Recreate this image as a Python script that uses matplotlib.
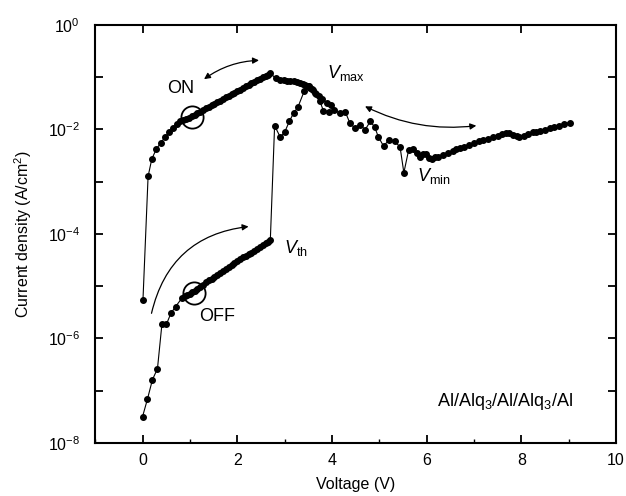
import numpy as np
import matplotlib
matplotlib.use("Agg")
import matplotlib.pyplot as plt
from matplotlib.ticker import FixedLocator, NullLocator, MultipleLocator

plt.rcParams['font.family'] = ['Liberation Sans', 'DejaVu Sans']
plt.rcParams['mathtext.fontset'] = 'custom'
plt.rcParams['mathtext.rm'] = 'Liberation Sans'
plt.rcParams['mathtext.it'] = 'Liberation Sans:italic'

# first sweep: OFF state, switching at Vth, NDR region, up to 9 V  (log10 of J)
v_off = [0.0, 0.105, 0.21, 0.316, 0.41, 0.505, 0.60, 0.70, 0.84,
         0.90, 0.95, 1.00, 1.05, 1.10, 1.16, 1.22, 1.28, 1.34, 1.40,
         1.46, 1.52, 1.58, 1.64, 1.70, 1.76, 1.82, 1.88, 1.94, 2.00,
         2.06, 2.12, 2.18, 2.24, 2.30, 2.36, 2.42, 2.48, 2.54, 2.60,
         2.65, 2.70,
         2.79, 2.91, 3.00, 3.10, 3.19, 3.28, 3.42, 3.51, 3.58, 3.66,
         3.74, 3.82, 3.94, 4.05, 4.17, 4.28, 4.38, 4.49, 4.60, 4.70,
         4.81, 4.90, 4.98, 5.09, 5.21, 5.33, 5.44, 5.52, 5.62, 5.72,
         5.80, 5.86, 5.92, 5.98, 6.05, 6.11, 6.18, 6.25, 6.35, 6.45,
         6.55, 6.62, 6.70, 6.80, 6.90, 7.00, 7.10, 7.19, 7.30, 7.40,
         7.50, 7.60, 7.68, 7.75, 7.82, 7.90, 7.96, 8.05, 8.15, 8.25,
         8.32, 8.39, 8.50, 8.60, 8.70, 8.80, 8.90, 9.02]
logj_off = [-7.50, -7.16, -6.79, -6.58, -5.73, -5.73, -5.52, -5.39, -5.22,
            -5.19, -5.17, -5.15, -5.12, -5.09, -5.05, -5.01, -4.97, -4.93, -4.89,
            -4.86, -4.82, -4.78, -4.75, -4.71, -4.67, -4.63, -4.60, -4.56, -4.52,
            -4.48, -4.45, -4.42, -4.39, -4.36, -4.33, -4.29, -4.26, -4.22, -4.18,
            -4.15, -4.11,
            -1.93, -2.15, -2.06, -1.85, -1.69, -1.58, -1.26, -1.18, -1.22, -1.32,
            -1.45, -1.64, -1.66, -1.63, -1.69, -1.66, -1.88, -1.98, -1.91, -2.01,
            -1.85, -1.95, -2.14, -2.32, -2.20, -2.23, -2.34, -2.83, -2.40, -2.38,
            -2.46, -2.52, -2.47, -2.47, -2.55, -2.57, -2.53, -2.52, -2.49, -2.45,
            -2.42, -2.38, -2.36, -2.33, -2.30, -2.27, -2.23, -2.20, -2.18, -2.15,
            -2.12, -2.09, -2.07, -2.07, -2.10, -2.13, -2.15, -2.12, -2.09, -2.06,
            -2.05, -2.04, -2.01, -1.98, -1.95, -1.93, -1.90, -1.87]

# second sweep: ON state
v_on = [0.01, 0.118, 0.196, 0.29, 0.385, 0.476, 0.56, 0.645, 0.737, 0.80,
        0.86, 0.92, 0.98, 1.04, 1.10, 1.16, 1.22, 1.28, 1.34, 1.40,
        1.46, 1.52, 1.58, 1.64, 1.70, 1.76, 1.82, 1.88, 1.94, 2.00,
        2.06, 2.12, 2.18, 2.24, 2.30, 2.36, 2.42, 2.48, 2.54, 2.60,
        2.65, 2.70, 2.81, 2.91, 2.98, 3.05, 3.12, 3.19, 3.26, 3.33,
        3.40, 3.44, 3.50, 3.54, 3.60, 3.65, 3.72, 3.79, 3.89, 3.99]
logj_on = [-5.26, -2.90, -2.57, -2.38, -2.26, -2.15, -2.06, -1.98, -1.89, -1.85,
           -1.82, -1.80, -1.78, -1.75, -1.72, -1.69, -1.66, -1.63, -1.60, -1.57,
           -1.54, -1.51, -1.48, -1.45, -1.42, -1.39, -1.36, -1.33, -1.30, -1.27,
           -1.24, -1.21, -1.18, -1.15, -1.12, -1.09, -1.06, -1.03, -1.00, -0.98,
           -0.96, -0.93, -1.02, -1.05, -1.06, -1.07, -1.07, -1.08, -1.10, -1.12,
           -1.14, -1.15, -1.18, -1.21, -1.25, -1.30, -1.37, -1.42, -1.49, -1.53]

y_exps = list(range(-8, 1))

fig = plt.figure(figsize=(6.26, 4.96), dpi=100)
ax = fig.add_axes([0.152, 0.107, 0.832, 0.843])

j_off = 10.0 ** np.array(logj_off)
j_on = 10.0 ** np.array(logj_on)
ax.plot(v_off, j_off, '-', color='black', lw=0.8, marker='o', ms=4, mfc='black', mec='black')
ax.plot(v_on, j_on, '-', color='black', lw=0.8, marker='o', ms=4, mfc='black', mec='black')

ax.set_yscale('log')
ax.set_xlim(-1, 10)
ax.set_ylim(1e-8, 1)

# ON / OFF circles
ax.plot([1.05], [10 ** -1.77], 'o', ms=16, mfc='none', mec='black', mew=1.3)
ax.plot([1.09], [10 ** -5.14], 'o', ms=16, mfc='none', mec='black', mew=1.3)

aprops = dict(color='black', lw=0.9, shrinkA=0, shrinkB=0, mutation_scale=9)
ax.annotate('', xy=(2.46, 10 ** -0.68), xytext=(1.30, 10 ** -1.04),
            arrowprops=dict(arrowstyle='<|-|>', connectionstyle='arc3,rad=-0.15', **aprops))
ax.annotate('', xy=(2.24, 10 ** -3.86), xytext=(0.19, 10 ** -5.52),
            arrowprops=dict(arrowstyle='-|>', connectionstyle='arc3,rad=-0.35', **aprops))
ax.annotate('', xy=(7.05, 10 ** -1.93), xytext=(4.70, 10 ** -1.56),
            arrowprops=dict(arrowstyle='<|-|>', connectionstyle='arc3,rad=0.15', **aprops))

ax.text(0.81, 10 ** -1.21, 'ON', fontsize=13, ha='center', va='center')
ax.text(1.58, 10 ** -5.59, 'OFF', fontsize=13, ha='center', va='center')
ax.text(3.89, 10 ** -0.92, r'$V_{\mathrm{max}}$', fontsize=13, ha='left', va='center')
ax.text(5.79, 10 ** -2.90, r'$V_{\mathrm{min}}$', fontsize=13, ha='left', va='center')
ax.text(2.98, 10 ** -4.27, r'$V_{\mathrm{th}}$', fontsize=13, ha='left', va='center')
ax.text(6.21, 10 ** -7.21, r'Al/Alq$_3$/Al/Alq$_3$/Al', fontsize=13, ha='left', va='center')

ax.xaxis.set_major_locator(FixedLocator([0, 2, 4, 6, 8, 10]))
ax.xaxis.set_minor_locator(MultipleLocator(1))
ax.yaxis.set_major_locator(FixedLocator([10.0 ** e for e in y_exps]))
ax.yaxis.set_minor_locator(NullLocator())
ax.set_yticklabels(['$10^{%d}$' % e if e % 2 == 0 else '' for e in y_exps])

ax.tick_params(which='major', direction='in', length=6, width=1.3, top=True, right=True,
               labelsize=11.5)
ax.tick_params(axis='x', which='major', pad=7)
ax.tick_params(axis='y', which='major', pad=11)
ax.tick_params(which='minor', direction='in', length=3, width=1.0, top=False, right=False)
for s in ax.spines.values():
    s.set_linewidth(1.5)

ax.set_xlabel('Voltage (V)', fontsize=11.5, labelpad=7)
ax.set_ylabel('Current density (A/cm$^2$)', fontsize=11.5, labelpad=10)

fig.savefig('out.png', dpi=100)
